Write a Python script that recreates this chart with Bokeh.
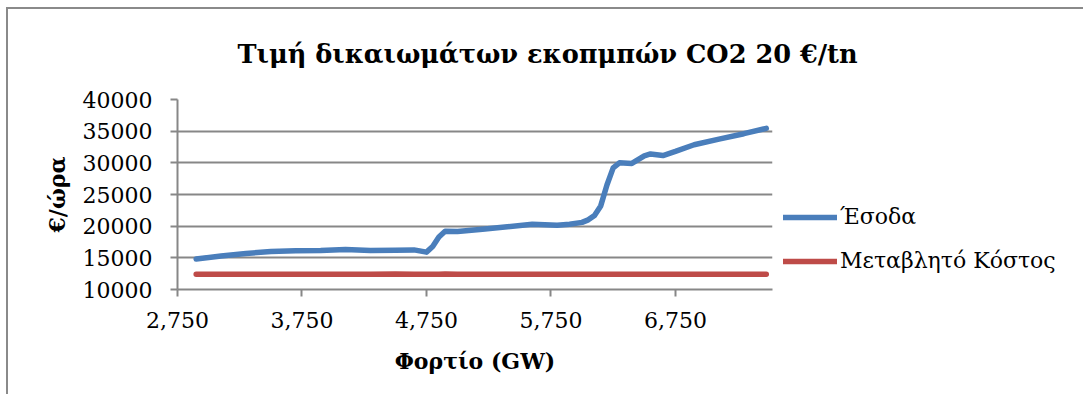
from bokeh.plotting import figure
from bokeh.models import (Legend, LegendItem, FixedTicker, NumeralTickFormatter,
                          Range1d)
from bokeh.embed import file_html
from bokeh.resources import INLINE

# ---- data ----
load_gw = [2900, 3100, 3300, 3500, 3700, 3900, 4100, 4300, 4500, 4650, 4750,
           4800, 4850, 4900, 5000, 5200, 5400, 5600, 5800, 5900, 6000, 6050,
           6100, 6150, 6200, 6250, 6300, 6400, 6500, 6550, 6650, 6750, 6900,
           7100, 7300, 7480]
revenue = [14800, 15300, 15700, 16000, 16100, 16150, 16300, 16150, 16200,
           16250, 15900, 16800, 18300, 19200, 19150, 19500, 19900, 20300,
           20150, 20300, 20600, 21000, 21700, 23200, 26500, 29200, 30000,
           29900, 31100, 31400, 31150, 31800, 32850, 33750, 34600, 35450]
variable_cost = [12400, 12400, 12400, 12400, 12400, 12400, 12400, 12400,
                 12450, 12400, 12400, 12400, 12400, 12450, 12400, 12400,
                 12400, 12400, 12400, 12400, 12400, 12400, 12400, 12400,
                 12400, 12400, 12400, 12400, 12400, 12400, 12400, 12400,
                 12400, 12400, 12400, 12400]
x_ticks = [2750, 3750, 4750, 5750, 6750]
y_ticks = [10000, 15000, 20000, 25000, 30000, 35000, 40000]
series_names = ["Έσοδα", "Μεταβλητό Κόστος"]
title_text = "Τιμή δικαιωμάτων εκοπμπών CO2 20 €/tn"
x_label = "Φορτίο (GW)"
y_label = "€/ώρα"

GRID = "#878787"
BLUE = "#4A7EBB"
RED = "#BE4B48"
SERIF = "DejaVu Serif"

p = figure(output_backend="svg", toolbar_location=None,
           frame_width=595, frame_height=190,
           min_border_left=169, min_border_right=300,
           min_border_top=90, min_border_bottom=105,
           x_range=Range1d(2750, 7530), y_range=Range1d(10000, 40000),
           title=title_text)
p.styles = {"margin-left": "6px", "margin-top": "7px",
            "border-left": "2px solid #8a8a8a", "border-top": "2px solid #8a8a8a"}
p.outline_line_color = None
p.background_fill_color = "white"
p.border_fill_color = "white"

p.title.align = "left"
p.title.vertical_align = "top"
p.title.offset = 60
p.title.text_font = SERIF
p.title.text_font_size = "25.6px"
p.title.text_font_style = "bold"
p.title.text_color = "black"
p.title.standoff = 57

for ax in (p.xaxis[0], p.yaxis[0]):
    ax.axis_line_color = GRID
    ax.axis_line_width = 2
    ax.major_tick_line_color = GRID
    ax.major_tick_line_width = 2
    ax.major_tick_in = 0
    ax.major_tick_out = 7
    ax.minor_tick_line_color = None
    ax.major_label_text_font = SERIF
    ax.major_label_text_font_size = "22px"
    ax.major_label_text_color = "black"
    ax.axis_label_text_font = SERIF
    ax.axis_label_text_font_size = "22px"
    ax.axis_label_text_font_style = "bold"
    ax.axis_label_text_color = "black"

p.xaxis[0].ticker = FixedTicker(ticks=x_ticks)
p.xaxis[0].formatter = NumeralTickFormatter(format="0,0")
p.xaxis[0].major_label_standoff = 15
p.xaxis[0].axis_label = x_label
p.xaxis[0].axis_label_standoff = 17

p.yaxis[0].ticker = FixedTicker(ticks=y_ticks)
p.yaxis[0].formatter = NumeralTickFormatter(format="0")
p.yaxis[0].major_label_standoff = 18
p.yaxis[0].axis_label = y_label
p.yaxis[0].axis_label_standoff = 10

p.xgrid.grid_line_color = None
p.ygrid.grid_line_color = GRID
p.ygrid.grid_line_width = 2
p.ygrid.ticker = FixedTicker(ticks=y_ticks)

r1 = p.line(load_gw, revenue, line_color=BLUE, line_width=5.5,
            line_join="round", line_cap="round")
r2 = p.line(load_gw, variable_cost, line_color=RED, line_width=5.5,
            line_join="round", line_cap="round")

legend = Legend(items=[LegendItem(label=series_names[0], renderers=[r1]),
                       LegendItem(label=series_names[1], renderers=[r2])],
                location=(11, 16), orientation="vertical")
legend.label_text_font = SERIF
legend.label_text_font_size = "22px"
legend.label_text_color = "black"
legend.glyph_width = 54
legend.glyph_height = 24
legend.label_height = 24
legend.spacing = 19
legend.label_standoff = 3
legend.padding = 0
legend.margin = 0
legend.border_line_color = None
legend.background_fill_alpha = 0
p.add_layout(legend, "right")

open("out.html", "w").write(file_html(p, INLINE))
